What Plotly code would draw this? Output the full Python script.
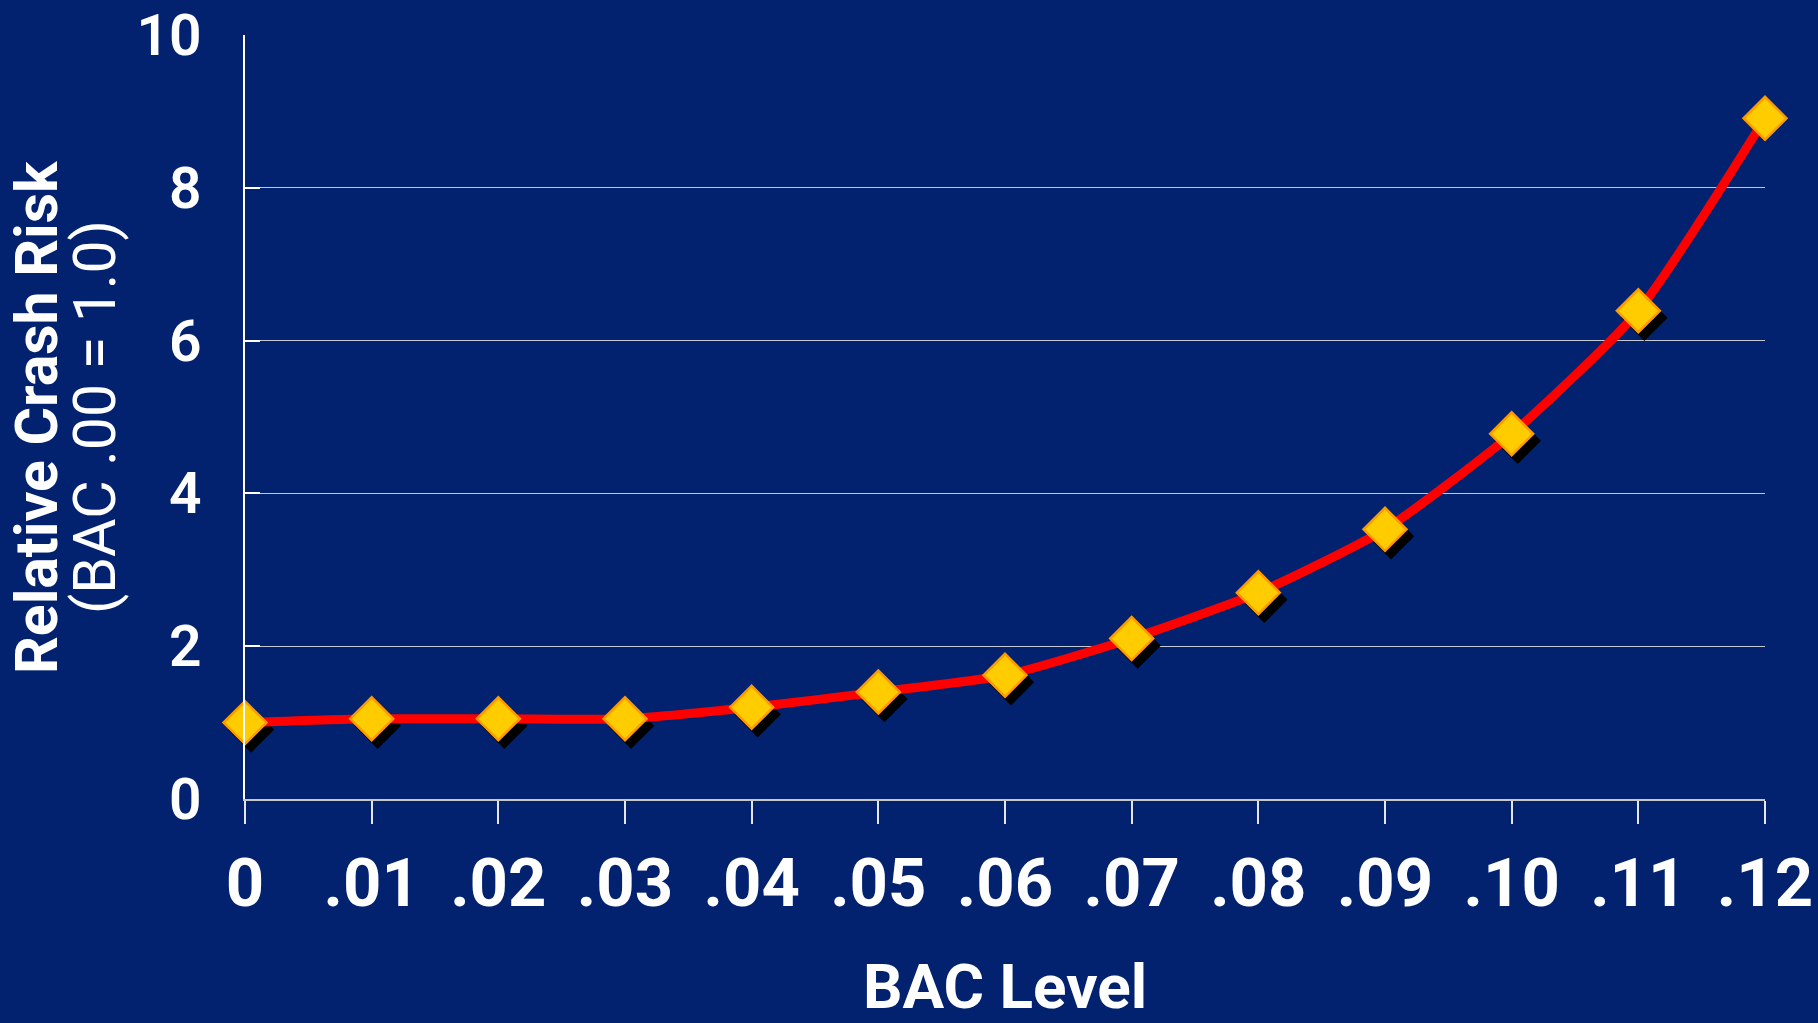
import plotly.graph_objects as go

# ---- data ----
bac_levels = [0.00, 0.01, 0.02, 0.03, 0.04, 0.05, 0.06, 0.07, 0.08, 0.09, 0.10, 0.11, 0.12]
crash_risk = [1.0, 1.05, 1.05, 1.05, 1.2, 1.4, 1.62, 2.1, 2.7, 3.53, 4.78, 6.39, 8.91]
x_tick_labels = ["0", ".01", ".02", ".03", ".04", ".05", ".06", ".07", ".08", ".09", ".10", ".11", ".12"]
y_tick_values = [0, 2, 4, 6, 8, 10]
y_title_lines = ["<b>Relative Crash Risk</b>", "(BAC .00 = 1.0)"]

# ---- styling ----
BG = "#022270"
W, H = 1818, 1023
M_L, M_R, M_T, M_B = 245, 53, 35, 224
plot_w = W - M_L - M_R
plot_h = H - M_T - M_B
X_RANGE = [0, 0.12]
Y_RANGE = [0, 10]
SHADOW_DX_PX, SHADOW_DY_PX = 6, 7
dx = SHADOW_DX_PX / plot_w * (X_RANGE[1] - X_RANGE[0])
dy = SHADOW_DY_PX / plot_h * (Y_RANGE[1] - Y_RANGE[0])
FONT = "Roboto, Arial, sans-serif"

fig = go.Figure()

# drop shadow of markers (drawn on a hidden, slightly shifted axis pair)
fig.add_trace(go.Scatter(
    x=bac_levels, y=crash_risk, xaxis="x", yaxis="y",
    mode="markers",
    marker=dict(symbol="diamond", size=33, color="black",
                line=dict(color="black", width=2.5)),
    cliponaxis=False, hoverinfo="skip", showlegend=False,
))

# main series
fig.add_trace(go.Scatter(
    x=bac_levels, y=crash_risk, xaxis="x2", yaxis="y2",
    mode="lines+markers",
    line=dict(color="#FF0000", width=9, shape="spline", smoothing=0.6),
    marker=dict(symbol="diamond", size=33, color="#FFCC00",
                line=dict(color="#FF9900", width=2.5)),
    cliponaxis=False, showlegend=False,
))

# y-axis title (two lines, tighter line spacing than plotly's default)
for txt, xs in zip(y_title_lines, [-209, -151]):
    fig.add_annotation(
        text=txt, xref="paper", yref="paper", x=0, y=0.5,
        xanchor="center", yanchor="middle", xshift=xs, textangle=-90,
        showarrow=False, font=dict(family=FONT, size=59, color="white"),
    )

fig.update_layout(
    width=W, height=H,
    margin=dict(l=M_L, r=M_R, t=M_T, b=M_B, autoexpand=False),
    paper_bgcolor=BG, plot_bgcolor=BG,
    font=dict(family=FONT, color="white"),
    showlegend=False,
    xaxis=dict(visible=False, range=[X_RANGE[0] - dx, X_RANGE[1] - dx], fixedrange=True),
    yaxis=dict(visible=False, range=[Y_RANGE[0] + dy, Y_RANGE[1] + dy], fixedrange=True),
    xaxis2=dict(
        overlaying="x", anchor="y2", side="bottom",
        range=X_RANGE, tickvals=bac_levels, ticktext=x_tick_labels,
        showgrid=False, zeroline=False,
        showline=True, linecolor="#C8C8C8", linewidth=1.5,
        ticks="outside", ticklen=23, tickwidth=1.5, tickcolor="#E6E6E6",
        tickfont=dict(family=FONT, size=67, color="white", weight="bold"),
        ticklabelstandoff=2,
        title=dict(text="<b>BAC Level</b>", standoff=50,
                   font=dict(family=FONT, size=62, color="white")),
    ),
    yaxis2=dict(
        overlaying="y", anchor="x2", side="left",
        range=Y_RANGE, tickvals=y_tick_values,
        showgrid=True, gridcolor="#C4C8D4", gridwidth=1.2,
        zeroline=False,
        showline=True, linecolor="white", linewidth=1.8,
        ticks="inside", ticklen=15, tickwidth=1.5, tickcolor="white",
        tickfont=dict(family=FONT, size=57, color="white", weight=600),
        ticklabelstandoff=30,
    ),
)

fig.write_html("out.html", config={"displayModeBar": False},
               post_script="document.body.style.margin='0px';")
